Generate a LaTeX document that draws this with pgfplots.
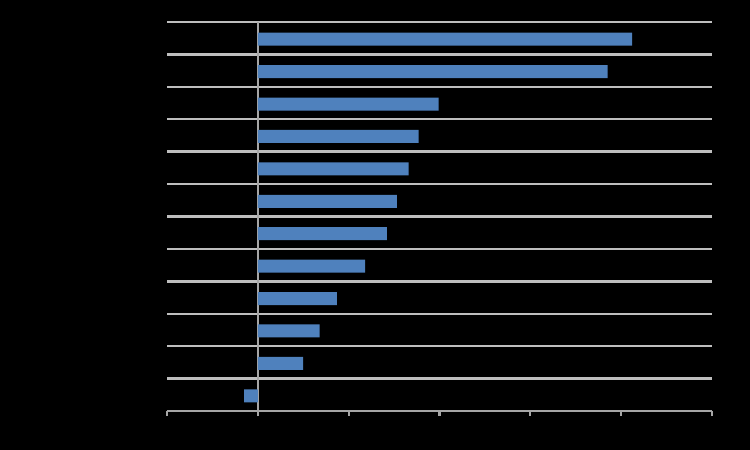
\documentclass[border=0pt]{standalone}
\usepackage{pgfplots}
\pgfplotsset{compat=1.18}
\definecolor{barblue}{HTML}{4F81BD}
\definecolor{gridgray}{HTML}{BEBEBE}
\definecolor{axisgray}{HTML}{A6A6A6}
\begin{document}
\begin{tikzpicture}
\useasboundingbox (0,0) rectangle (7.5cm,4.5cm);
\fill[black] (0,0) rectangle (7.5cm,4.5cm);
\begin{axis}[
    at={(1.67cm,0.39cm)}, anchor=south west,
    scale only axis,
    width=5.45cm, height=3.89cm,
    xbar,
    bar width=0.4,
    xmin=-1, xmax=5,
    ymin=0.5, ymax=12.5,
    y dir=reverse,
    axis x line*=bottom,
    axis y line*=left,
    x axis line style={axisgray, line width=0.6pt},
    y axis line style={draw=none},
    xtick={-1,0,1,2,3,4,5},
    xticklabels={},
    tick align=outside,
    major tick length=0.05cm,
    xtick style={axisgray, line width=0.6pt},
    ytick={0.5,1.5,...,12.5},
    yticklabels={},
    ytick style={draw=none},
    ymajorgrids=true,
    y grid style={gridgray, line width=0.7pt},
    extra x ticks={0},
    extra x tick labels={},
    extra x tick style={xmajorgrids=true, x grid style={axisgray, line width=0.6pt}},
]
\addplot[draw=none, fill=barblue, bar shift=0.03] coordinates {
    (4.12,1) (3.85,2) (1.99,3) (1.77,4) (1.66,5) (1.53,6)
    (1.42,7) (1.18,8) (0.87,9) (0.68,10) (0.50,11) (-0.15,12)
};
\end{axis}
\end{tikzpicture}
\end{document}
